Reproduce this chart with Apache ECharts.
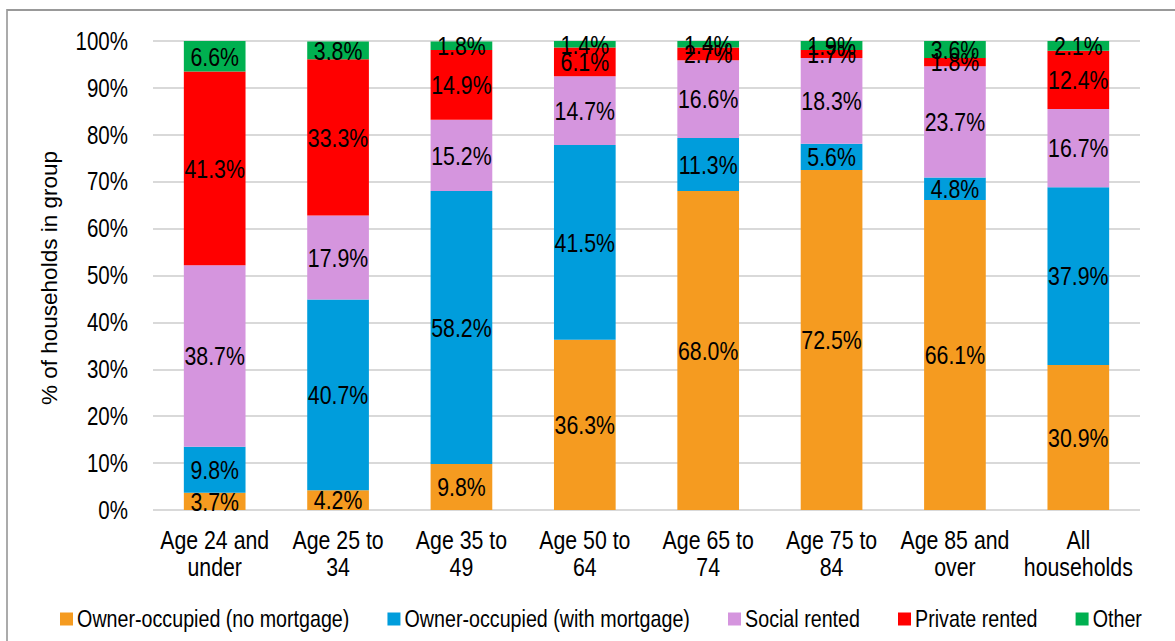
<!DOCTYPE html>
<html>
<head>
<meta charset="utf-8">
<script src="https://cdn.jsdelivr.net/npm/echarts@6/dist/echarts.min.js"></script>
<style>
  html, body { margin: 0; padding: 0; background: #fff; overflow: hidden; }
  #wrap { width: 1175px; height: 641px; overflow: hidden; }
  /* The chart is laid out on a wider canvas and condensed horizontally,
     giving the narrow sans typeface the report uses. */
  #chart { width: 1433px; height: 641px; transform-origin: 0 0; }
</style>
</head>
<body>
<div id="wrap"><div id="chart"></div></div>
<script>
// Housing tenure by age group of household reference person (% of households)
const categories = ['Age 24 and\nunder', 'Age 25 to\n34', 'Age 35 to\n49', 'Age 50 to\n64',
  'Age 65 to\n74', 'Age 75 to\n84', 'Age 85 and\nover', 'All\nhouseholds'];

const ownedOutright = [3.7, 4.2, 9.8, 36.3, 68.0, 72.5, 66.1, 30.9];
const ownedMortgage = [9.8, 40.7, 58.2, 41.5, 11.3, 5.6, 4.8, 37.9];
const socialRented  = [38.7, 17.9, 15.2, 14.7, 16.6, 18.3, 23.7, 16.7];
const privateRented = [41.3, 33.3, 14.9, 6.1, 2.7, 1.7, 1.8, 12.4];
const otherTenure   = [6.6, 3.8, 1.8, 1.4, 1.4, 1.9, 3.6, 2.1];

const yTicks = [0, 10, 20, 30, 40, 50, 60, 70, 80, 90, 100];

const FONT = "'Liberation Sans', Arial, sans-serif";

// horizontal condensing factor
const LAYOUT_W = 1433;
const S = 1175 / LAYOUT_W;
const el = document.getElementById('chart');
el.style.transform = 'scaleX(' + S + ')';
const hx = v => v / S;   // on-screen horizontal px -> layout px

function tenureSeries(name, data, color) {
  return {
    name: name,
    type: 'bar',
    stack: 'tenure',
    data: data,
    barCategoryGap: '50%',
    itemStyle: { color: color },
    label: {
      show: true,
      position: 'inside',
      color: '#000',
      fontFamily: FONT,
      fontSize: 26,
      textBorderWidth: 0,
      formatter: p => p.value.toFixed(1) + '%'
    }
  };
}

const chart = echarts.init(el, null, { renderer: 'svg' });
chart.setOption({
  backgroundColor: '#fff',
  animation: false,
  textStyle: { fontFamily: FONT },
  graphic: [{
    type: 'rect',
    shape: { x: hx(7), y: 10, width: 1600, height: 800 },
    style: { fill: 'none', stroke: '#999', lineWidth: 2 },
    silent: true,
    z: -10
  }, {
    // y-axis title, kept at normal width
    type: 'text',
    x: hx(49),
    y: 278,
    rotation: Math.PI / 2,
    scaleY: 1 / S,
    silent: true,
    style: {
      text: '% of households in group',
      fill: '#000',
      fontFamily: FONT,
      fontSize: 22.5,
      align: 'center',
      verticalAlign: 'middle'
    }
  }],
  grid: {
    left: hx(153), right: hx(35), top: 41, bottom: 131,
    containLabel: false,
    outerBoundsMode: 'none'
  },
  legend: {
    left: hx(60),
    top: 607,
    padding: 0,
    itemWidth: hx(13),
    itemHeight: 13,
    itemGap: hx(38),
    icon: 'rect',
    textStyle: { fontFamily: FONT, fontSize: 24, color: '#000' },
    data: ['Owner-occupied (no mortgage)', 'Owner-occupied (with mortgage)',
      'Social rented', 'Private rented', 'Other']
  },
  xAxis: {
    type: 'category',
    data: categories,
    axisLine: { show: false },
    axisTick: { show: false },
    axisLabel: {
      color: '#000',
      fontFamily: FONT,
      fontSize: 26,
      lineHeight: 27,
      margin: 16,
      interval: 0
    }
  },
  yAxis: {
    type: 'value',
    min: yTicks[0],
    max: yTicks[yTicks.length - 1],
    interval: 10,
    axisLine: { show: false },
    axisTick: { show: false },
    splitLine: { lineStyle: { color: '#d9d9d9', width: 2 } },
    axisLabel: {
      color: '#000',
      fontFamily: FONT,
      fontSize: 25,
      margin: hx(25),
      formatter: v => v + '%'
    }
  },
  series: [
    tenureSeries('Owner-occupied (no mortgage)', ownedOutright, '#F59B20'),
    tenureSeries('Owner-occupied (with mortgage)', ownedMortgage, '#009DDC'),
    tenureSeries('Social rented', socialRented, '#D595DE'),
    tenureSeries('Private rented', privateRented, '#FF0000'),
    tenureSeries('Other', otherTenure, '#00B050')
  ]
});
</script>
</body>
</html>
